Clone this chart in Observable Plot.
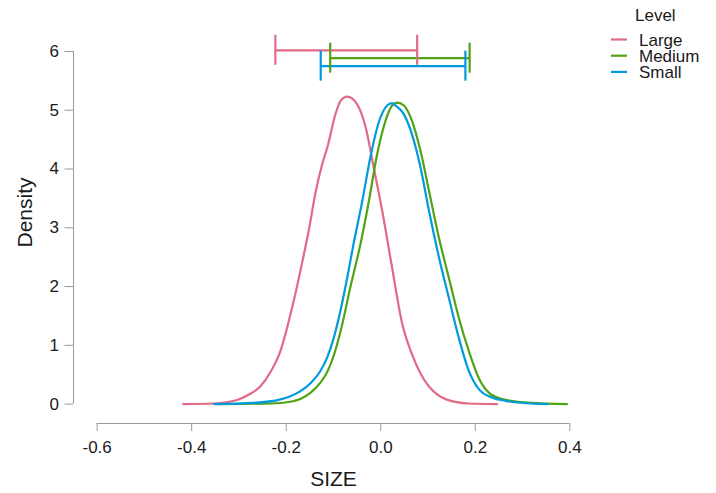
<!DOCTYPE html>
<html><head><meta charset="utf-8">
<script src="https://cdn.jsdelivr.net/npm/d3@7"></script>
<script src="https://cdn.jsdelivr.net/npm/@observablehq/plot@0.6"></script>
<style>
body{margin:0;background:#fff;}
#wrap{position:relative;width:716px;height:493px;font-family:"Liberation Sans",Arial,sans-serif;}
#wrap > svg{position:absolute;left:0;top:0;}
</style></head><body><div id="wrap"></div>
<script>
const levels = ["Large", "Medium", "Small"];
const colors = ["#E16A86", "#50A315", "#009ADE"];

const largeX = [-0.418, -0.353, -0.304, -0.275, -0.255, -0.233, -0.212, -0.195, -0.180, -0.166, -0.152, -0.138, -0.124, -0.113, -0.096, -0.085, -0.071, -0.050, -0.032, -0.015, 0.003, 0.024, 0.045, 0.066, 0.084, 0.102, 0.120, 0.137, 0.186, 0.246];
const largeY = [0, 0.01, 0.07, 0.18, 0.30, 0.55, 0.91, 1.40, 1.90, 2.42, 2.97, 3.60, 4.08, 4.37, 4.93, 5.16, 5.23, 5.10, 4.71, 4.03, 3.29, 2.32, 1.38, 0.85, 0.52, 0.30, 0.16, 0.085, 0.01, 0];

const mediumX = [-0.345, -0.233, -0.191, -0.170, -0.149, -0.128, -0.113, -0.099, -0.085, -0.064, -0.043, -0.025, -0.0077, 0.010, 0.024, 0.035, 0.049, 0.066, 0.084, 0.102, 0.123, 0.144, 0.165, 0.186, 0.207, 0.228, 0.257, 0.317, 0.394];
const mediumY = [0, 0.01, 0.04, 0.085, 0.19, 0.36, 0.55, 0.84, 1.24, 2.0, 2.72, 3.46, 4.25, 4.82, 5.08, 5.13, 5.08, 4.82, 4.31, 3.63, 2.83, 2.15, 1.47, 0.91, 0.45, 0.20, 0.085, 0.02, 0];

const smallX = [-0.353, -0.269, -0.212, -0.170, -0.148, -0.128, -0.113, -0.099, -0.085, -0.071, -0.057, -0.039, -0.022, -0.004, 0.0135, 0.024, 0.031, 0.049, 0.066, 0.084, 0.102, 0.123, 0.144, 0.165, 0.186, 0.207, 0.236, 0.264, 0.317, 0.352];
const smallY = [0, 0.02, 0.08, 0.22, 0.36, 0.56, 0.8, 1.14, 1.6, 2.15, 2.75, 3.46, 4.2, 4.8, 5.08, 5.12, 5.08, 4.93, 4.59, 4.03, 3.29, 2.50, 1.81, 1.13, 0.57, 0.26, 0.11, 0.056, 0.01, 0];

const errLow = [-0.223, -0.107, -0.127];
const errHigh = [0.077, 0.188, 0.179];
const errY = [6.02, 5.885, 5.75];

const xTicks = [-0.6, -0.4, -0.2, 0, 0.2, 0.4];
const yTicks = [0, 1, 2, 3, 4, 5, 6];
const xLabel = "SIZE";
const yLabel = "Density";
const legendTitle = "Level";

// build tables
const series = [[largeX, largeY], [mediumX, mediumY], [smallX, smallY]];
const curves = [];
series.forEach(([xs, ys], i) => xs.forEach((x, j) => curves.push({level: levels[i], x, y: ys[j]})));
const bars = levels.map((level, i) => ({level, lo: errLow[i], hi: errHigh[i], y: errY[i]}));
const ends = bars.flatMap(b => [{level: b.level, x: b.lo, y: b.y}, {level: b.level, x: b.hi, y: b.y}]);

const capHalf = 0.255;
const xDom = [-0.65, 0.45];
const yDom = [-0.33, 6.85];
const axisGrey = "#9a9a9a";
const ink = "#1a1a1a";
const font = "'Liberation Sans', Arial, sans-serif";

const chart = Plot.plot({
  width: 716, height: 493,
  marginLeft: 73, marginRight: 123, marginTop: 1, marginBottom: 70,
  style: {fontFamily: font, background: "transparent", color: ink},
  x: {domain: xDom},
  y: {domain: yDom},
  color: {domain: levels, range: colors},
  marks: [
    Plot.ruleY([yDom[0]], {x1: d3.min(xTicks), x2: d3.max(xTicks), stroke: axisGrey, strokeWidth: 1}),
    Plot.ruleX([xDom[0]], {y1: d3.min(yTicks), y2: d3.max(yTicks), stroke: axisGrey, strokeWidth: 1}),
    Plot.axisX(xTicks, {tickSize: 8, tickPadding: 9, fontSize: 17, tickFormat: d => d.toFixed(1), stroke: axisGrey, fill: ink, label: null}),
    Plot.axisY(yTicks, {tickSize: 8.5, tickPadding: 6, fontSize: 17, tickFormat: d => String(d), stroke: axisGrey, fill: ink, label: null}),
    Plot.text([xLabel], {text: d => d, frameAnchor: "bottom", dy: 56, fontSize: 21, fill: ink, textAnchor: "middle", lineAnchor: "middle"}),
    Plot.text([yLabel], {text: d => d, frameAnchor: "left", dx: -48, rotate: -90, fontSize: 21, fill: ink, textAnchor: "middle", lineAnchor: "middle"}),
    Plot.line(curves, {x: "x", y: "y", z: "level", stroke: "level", strokeWidth: 2.2, curve: "monotone-x"}),
    Plot.ruleY(bars, {y: "y", x1: "lo", x2: "hi", stroke: "level", strokeWidth: 2.2}),
    Plot.ruleX(ends, {x: "x", y1: d => d.y - capHalf, y2: d => d.y + capHalf, stroke: "level", strokeWidth: 2.2})
  ]
});

const wrap = document.getElementById("wrap");
wrap.appendChild(chart);

// legend overlay
const leg = d3.select(wrap).append("svg")
  .attr("width", 716).attr("height", 493)
  .style("pointer-events", "none")
  .attr("font-family", font);
leg.append("text").attr("x", 635).attr("y", 21).attr("font-size", 17).attr("fill", ink).text(legendTitle);
levels.forEach((lv, i) => {
  const cy = 39.5 + i * 16.2;
  leg.append("line").attr("x1", 611).attr("x2", 627).attr("y1", cy).attr("y2", cy)
    .attr("stroke", colors[i]).attr("stroke-width", 2.2);
  leg.append("text").attr("x", 639).attr("y", cy + 6).attr("font-size", 17).attr("fill", ink).text(lv);
});
</script>
</body></html>
